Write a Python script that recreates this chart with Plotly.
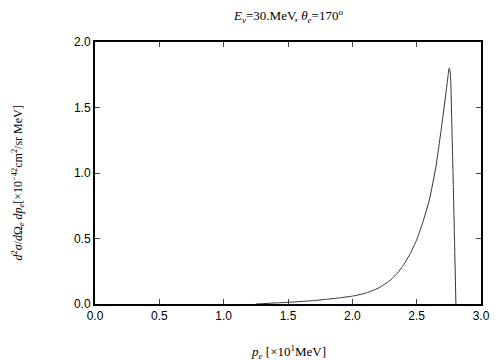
import plotly.graph_objects as go

p_e = [1.25, 1.4, 1.5, 1.6, 1.7, 1.8, 1.9, 2.0, 2.1, 2.2, 2.3, 2.35, 2.4, 2.45, 2.5,
       2.55, 2.6, 2.65, 2.7, 2.73, 2.745, 2.752, 2.758, 2.765, 2.775, 2.785, 2.795, 2.805]
xsec = [0.0, 0.008, 0.013, 0.019, 0.026, 0.036, 0.047, 0.06, 0.082, 0.12, 0.185, 0.235,
        0.30, 0.385, 0.49, 0.63, 0.80, 1.05, 1.40, 1.63, 1.75, 1.80, 1.79, 1.70, 1.30,
        0.90, 0.45, 0.0]

x_ticks = [0.0, 0.5, 1.0, 1.5, 2.0, 2.5, 3.0]
y_ticks = [0.0, 0.5, 1.0, 1.5, 2.0]

serif = "Liberation Serif"
sans = "Liberation Sans"

fig = go.Figure()
fig.add_trace(go.Scatter(x=p_e, y=xsec, mode="lines",
                         line=dict(color="#333333", width=1, shape="spline", smoothing=0.4),
                         showlegend=False))

axis_common = dict(showgrid=False, zeroline=False, showline=True, linecolor="black",
                   linewidth=2, mirror="allticks", ticks="inside", ticklen=5,
                   tickcolor="#444444", tickwidth=1,
                   tickfont=dict(family=sans, size=12, color="black"))

fig.update_xaxes(range=[0, 3], tickvals=x_ticks,
                 ticktext=[f"{v:.1f}" for v in x_ticks], **axis_common)
fig.update_yaxes(range=[0, 2], tickvals=y_ticks,
                 ticktext=[f"{v:.1f}" for v in y_ticks], **axis_common)

fig.update_layout(
    width=496, height=352,
    margin=dict(l=87, r=23, t=34, b=56),
    plot_bgcolor="white", paper_bgcolor="white",
    annotations=[
        dict(text="<i>E<sub>ν</sub></i>=30.MeV, <i>θ<sub>e</sub></i>=170<sup>o</sup>",
             xref="paper", yref="paper", x=0.5, y=1, yshift=15, showarrow=False,
             xanchor="center", yanchor="bottom",
             font=dict(family=serif, size=13, color="black")),
        dict(text="<i>p<sub>e</sub></i> [×10<sup>1</sup>MeV]",
             xref="paper", yref="paper", x=0.5, y=0, yshift=-37, showarrow=False,
             xanchor="center", yanchor="top",
             font=dict(family=serif, size=13, color="black")),
        dict(text="<i>d</i><sup>2</sup><i>σ</i>/<i>d</i>Ω<sub><i>e</i></sub> <i>dp<sub>e</sub></i>[×10<sup>−42</sup>cm<sup>2</sup>/sr MeV]",
             xref="paper", yref="paper", x=0, y=0.46, xshift=-77, textangle=-90,
             showarrow=False, xanchor="center", yanchor="middle",
             font=dict(family=serif, size=12, color="black")),
    ],
)

fig.write_html("out.html")
